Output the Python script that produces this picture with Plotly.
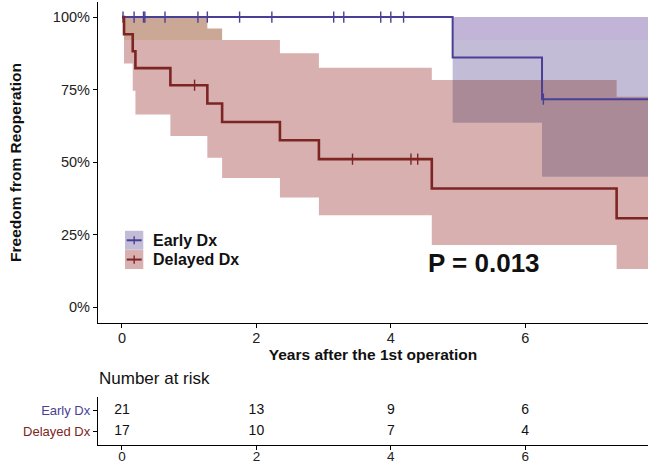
import numpy as np
import plotly.graph_objects as go

# ---------------- data ----------------
early_time = [0.0, 4.92, 6.25]
early_surv = [1.0, 0.861, 0.717]
early_lower = [1.0, 0.636, 0.449]
early_upper = [1.0, 1.0, 1.0]
early_censor = [0.015, 0.18, 0.32, 0.34, 0.64, 1.13, 1.27, 1.75, 2.23, 3.15, 3.30, 3.85, 4.00, 4.19, 6.27]
early_end = 7.83

delayed_time = [0.0, 0.03, 0.16, 0.20, 0.72, 1.27, 1.49, 2.35, 2.93, 4.61, 7.36]
delayed_surv = [1.0, 0.941, 0.882, 0.824, 0.765, 0.702, 0.638, 0.575, 0.510, 0.409, 0.306]
delayed_lower = [1.0, 0.840, 0.746, 0.664, 0.590, 0.515, 0.445, 0.378, 0.317, 0.214, 0.131]
delayed_upper = [1.0, 1.0, 1.0, 1.0, 1.0, 0.961, 0.921, 0.875, 0.825, 0.783, 0.725]
delayed_censor = [1.08, 3.43, 4.30, 4.40]
delayed_end = 7.83

groups = ["Early Dx", "Delayed Dx"]
risk_times = [0, 2, 4, 6]
risk_early = [21, 13, 9, 6]
risk_delayed = [17, 10, 7, 4]
x_ticks = [0, 2, 4, 6]
y_ticks = [0, 0.25, 0.5, 0.75, 1.0]
y_ticklabels = ["0%", "25%", "50%", "75%", "100%"]
p_text = "P = 0.013"

# ---------------- style ----------------
BLUE = "#4A3F96"
RED = "#7D2523"
PINK = "#D8B0B0"
TAN = "#CBA796"
LAV = "#C3BCD6"
LAV2 = "#C2B4D6"
MAUVE = "#AB8A97"
STRIP = 0.921
FONT = "Liberation Sans, Arial, Helvetica, sans-serif"
XR = [-0.357, 7.827]


def step_value(times, vals, t):
    i = np.searchsorted(np.asarray(times), t, side="right") - 1
    return vals[max(i, 0)]


def band_polygon(times, lo, hi, end):
    edges = list(times) + [end]
    xs, ys = [], []
    for i in range(len(times)):
        xs += [edges[i], edges[i + 1]]
        ys += [hi[i], hi[i]]
    for i in reversed(range(len(times))):
        xs += [edges[i + 1], edges[i]]
        ys += [lo[i], lo[i]]
    return xs, ys


def add_band(fig, times, lo, hi, end, color):
    xs, ys = band_polygon(times, lo, hi, end)
    fig.add_trace(go.Scatter(x=xs, y=ys, fill="toself", fillcolor=color, mode="lines",
                             line=dict(width=0), hoverinfo="skip", showlegend=False,
                             xaxis="x", yaxis="y"))


fig = go.Figure()

# bands (split at strip level)
for times, lo, hi, end, c_main, c_strip in [
    (delayed_time, delayed_lower, delayed_upper, delayed_end, PINK, TAN),
    (early_time, early_lower, early_upper, early_end, LAV, LAV2),
]:
    lo_a, hi_a = np.array(lo), np.array(hi)
    add_band(fig, times, np.minimum(lo_a, STRIP), np.minimum(hi_a, STRIP), end, c_main)
    add_band(fig, times, np.maximum(lo_a, STRIP), np.maximum(hi_a, STRIP), end, c_strip)

# overlap of the two bands
start = early_time[1]
bps = sorted(set([t for t in early_time + delayed_time if t >= start] + [start]))
ov_lo, ov_hi = [], []
for t in bps:
    l = max(step_value(early_time, early_lower, t), step_value(delayed_time, delayed_lower, t))
    h = min(step_value(early_time, early_upper, t), step_value(delayed_time, delayed_upper, t))
    ov_lo.append(l)
    ov_hi.append(max(h, l))
add_band(fig, bps, ov_lo, ov_hi, min(early_end, delayed_end), MAUVE)

# curves
for times, surv, end, censor, color, w in [
    (early_time, early_surv, early_end, early_censor, BLUE, 2.0),
    (delayed_time, delayed_surv, delayed_end, delayed_censor, RED, 2.6),
]:
    fig.add_trace(go.Scatter(x=list(times) + [end], y=list(surv) + [surv[-1]], mode="lines",
                             line=dict(color=color, width=w, shape="hv"), showlegend=False,
                             xaxis="x", yaxis="y"))
    fig.add_trace(go.Scatter(x=censor, y=[step_value(times, surv, c) for c in censor], mode="markers",
                             marker=dict(symbol="line-ns-open", size=8, color=color,
                                         line=dict(color=color, width=1.4)),
                             showlegend=False, xaxis="x", yaxis="y"))

# risk table
fig.add_trace(go.Scatter(x=risk_times, y=[1] * len(risk_times), mode="text",
                         text=[str(v) for v in risk_early], textfont=dict(size=14, color="#111", family=FONT),
                         showlegend=False, xaxis="x2", yaxis="y2"))
fig.add_trace(go.Scatter(x=risk_times, y=[0] * len(risk_times), mode="text",
                         text=[str(v) for v in risk_delayed], textfont=dict(size=14, color="#111", family=FONT),
                         showlegend=False, xaxis="x2", yaxis="y2"))

# manual legend
shapes = []
ann = []
for i, (name, c_box, c_line) in enumerate([(groups[0], LAV, BLUE), (groups[1], PINK, RED)]):
    y0 = 0.263 - i * 0.0665
    y1 = y0 - 0.0655
    yc = (y0 + y1) / 2
    shapes.append(dict(type="rect", xref="x", yref="y", x0=0.045, x1=0.317, y0=y1, y1=y0,
                       fillcolor=c_box, line=dict(width=0), layer="above"))
    shapes.append(dict(type="line", xref="x", yref="y", x0=0.07, x1=0.293, y0=yc, y1=yc,
                       line=dict(color=c_line, width=2)))
    shapes.append(dict(type="line", xref="x", yref="y", x0=0.181, x1=0.181, y0=yc - 0.014, y1=yc + 0.014,
                       line=dict(color=c_line, width=1.4)))
    ann.append(dict(x=0.427, y=yc, xref="x", yref="y", text=name, showarrow=False, xanchor="left",
                    yanchor="middle", font=dict(size=16, color="#111", family=FONT, weight="bold")))

ann.append(dict(x=5.387, y=0.1507, xref="x", yref="y", text=p_text, showarrow=False, xanchor="center",
                yanchor="middle", font=dict(size=26, color="#111", family=FONT, weight="bold")))
ann.append(dict(x=-0.002, y=0.149, xref="paper", yref="paper", text="Number at risk", showarrow=False,
                xanchor="left", yanchor="middle", font=dict(size=17, color="#111", family=FONT)))

axis_common = dict(showline=True, linecolor="black", linewidth=1.3, ticks="outside", ticklen=4,
                   tickcolor="black", tickwidth=1.1, showgrid=False, zeroline=False, automargin=False)
tick_big = dict(size=14.5, color="#222", family=FONT)
tick_mid = dict(size=13.5, color="#222", family=FONT)
tick_small = dict(size=13, color="#222", family=FONT)

fig.update_layout(
    width=650, height=465,
    margin=dict(l=98, r=2, t=2, b=20, autoexpand=False),
    paper_bgcolor="white", plot_bgcolor="white",
    font=dict(family=FONT),
    showlegend=False,
    shapes=shapes, annotations=ann,
    xaxis=dict(domain=[0, 1], range=XR, tickvals=x_ticks, anchor="y", ticklabelstandoff=-3,
               tickfont=tick_big,
               title=dict(text="Years after the 1st operation", standoff=1,
                          font=dict(size=15.5, color="#111", family=FONT, weight="bold")),
               **axis_common),
    yaxis=dict(domain=[0.2754, 1.0], range=[-0.055, 1.052], tickvals=y_ticks, ticktext=y_ticklabels,
               anchor="x", tickfont=tick_big,
               title=dict(text="Freedom from Reoperation", standoff=27,
                          font=dict(size=15.5, color="#111", family=FONT, weight="bold")),
               **axis_common),
    xaxis2=dict(domain=[0, 1], range=XR, tickvals=x_ticks, anchor="y2", ticklabelstandoff=-5,
                tickfont=tick_mid, **axis_common),
    yaxis2=dict(domain=[0, 0.1084], range=[-0.6, 1.6], tickvals=[1, 0], anchor="x2",
                tickfont=tick_small,
                ticktext=[f'<span style="color:{BLUE}">{groups[0]}</span>',
                          f'<span style="color:{RED}">{groups[1]}</span>'],
                **axis_common),
)

fig.write_html("out.html", config={"displayModeBar": False},
               post_script="document.body.style.margin='0';document.body.style.overflow='hidden';")
